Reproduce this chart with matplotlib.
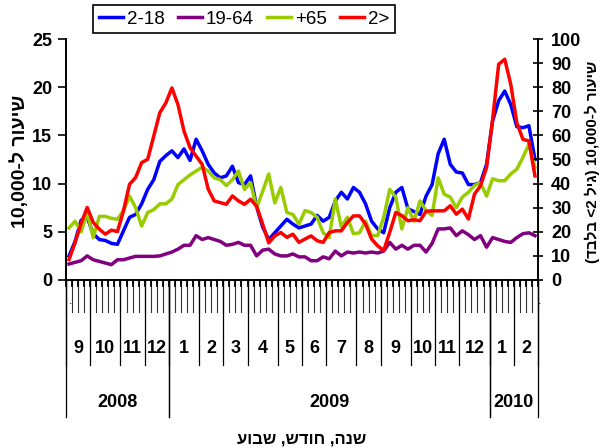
import matplotlib.pyplot as plt
import numpy as np

plt.rcParams['font.family'] = ['Liberation Sans Narrow', 'Liberation Sans', 'DejaVu Sans']

# weekly rates per 10,000 (78 weeks, Sep 2008 - Feb 2010)
age_2_18 = [2.5, 4.0, 6.2, 6.5, 4.8, 4.2, 4.1, 3.8, 3.7, 5.1,
            6.5, 6.8, 7.9, 9.4, 10.4, 12.3, 12.9, 13.4, 12.7, 13.6,
            12.4, 14.6, 13.4, 12.0, 11.1, 10.6, 10.8, 11.8, 10.1, 9.9,
            10.8, 7.6, 5.5, 4.2, 4.9, 5.6, 6.3, 5.8, 5.4, 5.6,
            5.8, 6.7, 6.1, 6.5, 8.2, 9.1, 8.4, 9.6, 9.1, 7.9,
            6.1, 5.3, 4.9, 7.5, 9.1, 9.6, 7.4, 7.1, 6.8, 8.7,
            9.9, 13.1, 14.6, 12.0, 11.2, 11.1, 9.9, 9.9, 10.1, 12.0,
            16.5, 18.6, 19.6, 18.2, 15.9, 15.8, 16.0, 12.5]
age_19_64 = [1.66, 1.83, 2.0, 2.5, 2.1, 1.93, 1.76, 1.59, 2.1, 2.1,
             2.28, 2.45, 2.45, 2.45, 2.45, 2.5, 2.7, 2.9, 3.2, 3.6,
             3.6, 4.6, 4.2, 4.4, 4.2, 4.0, 3.6, 3.7, 3.9, 3.6,
             3.6, 2.5, 3.1, 3.2, 2.7, 2.5, 2.5, 2.7, 2.4, 2.4,
             2.0, 2.0, 2.4, 2.2, 3.0, 2.5, 2.9, 2.8, 2.9, 2.8,
             2.9, 2.8, 3.0, 3.9, 3.2, 3.6, 3.2, 3.6, 3.6, 2.9,
             3.8, 5.3, 5.3, 5.4, 4.6, 5.1, 4.7, 4.2, 4.6, 3.4,
             4.4, 4.2, 4.0, 3.9, 4.4, 4.8, 4.9, 4.6]
age_65 = [5.4, 6.1, 5.0, 7.0, 4.4, 6.6, 6.6, 6.4, 6.3, 7.2,
          8.7, 7.5, 5.6, 7.0, 7.3, 7.9, 7.9, 8.4, 9.9, 10.4,
          10.9, 11.3, 11.7, 11.3, 10.6, 10.4, 9.8, 10.4, 11.3, 9.4,
          10.1, 7.5, 9.2, 11.0, 8.0, 9.6, 7.0, 6.8, 5.8, 7.2,
          7.0, 6.5, 4.9, 4.4, 8.4, 5.5, 6.5, 4.8, 4.9, 6.1,
          4.6, 4.6, 6.5, 9.4, 8.6, 5.3, 7.5, 6.1, 8.2, 7.2,
          6.7, 10.6, 8.9, 8.6, 7.5, 8.6, 9.1, 9.8, 10.1, 8.7,
          10.5, 10.3, 10.3, 11.0, 11.5, 12.7, 14.1, 11.7]
# under 2, secondary axis
age_under_2 = [8.5, 15.5, 23.5, 30.1, 23.9, 21.1, 19.0, 20.7, 20.1, 28.7,
               39.7, 42.5, 48.7, 50.1, 59.7, 69.4, 73.5, 79.7, 72.8, 61.8,
               54.9, 51.4, 48.0, 37.7, 32.8, 32.1, 31.4, 34.9, 32.8, 31.4,
               33.5, 30.6, 23.2, 15.4, 18.3, 19.7, 17.7, 19.0, 15.6, 17.0,
               18.3, 16.3, 15.6, 19.7, 20.4, 20.4, 23.9, 26.6, 26.6, 23.2,
               17.0, 14.2, 12.2, 19.8, 28.0, 26.7, 24.6, 25.0, 24.6, 28.5,
               28.7, 28.7, 28.7, 30.8, 27.3, 29.4, 25.3, 35.6, 39.1, 46.7,
               66.7, 89.5, 91.6, 81.2, 65.3, 58.4, 57.7, 43.2]

series_labels = ['2-18', '19-64', '+65', '2>']
colors = ['#0000FF', '#800080', '#99CC00', '#FF0000']

month_weeks = [4, 5, 4, 4, 5, 4, 4, 5, 4, 4, 5, 4, 5, 4, 4, 5, 4, 4]
month_labels = ['9', '10', '11', '12', '1', '2', '3', '4', '5', '6',
                '7', '8', '9', '10', '11', '12', '1', '2']
years = ['2008', '2009', '2010']
year_months = [4, 12, 2]

# hebrew text in visual (left-to-right) order
xlabel_txt = 'עובש ,שדוח ,הנש'
ylabel_left = '10,000-ל רועיש'
ylabel_right = '(דבלב <2 ליג) 10,000-ל רועיש'

W, H = 603, 448
fig = plt.figure(figsize=(W / 100, H / 100), dpi=100)
ax = fig.add_axes([66 / W, 1 - 280 / H, 472 / W, 241 / H])
ax2 = ax.twinx()

n = len(age_2_18)
x = np.arange(n) + 0.5
lw = 2.5
handles = []
for vals, c, lab in zip([age_2_18, age_19_64, age_65], colors[:3], series_labels[:3]):
    h, = ax.plot(x, vals, color=c, lw=lw, label=lab)
    handles.append(h)
h, = ax2.plot(x, age_under_2, color=colors[3], lw=lw, label=series_labels[3])
handles.append(h)

ax.set_xlim(0, n)
ax.set_ylim(0, 25)
ax2.set_ylim(0, 100)
ax.set_yticks(range(0, 26, 5))
ax2.set_yticks(range(0, 101, 10))
ax.set_xticks([])
ax2.set_xticks([])

ax.spines['top'].set_visible(False)
ax2.spines['top'].set_visible(False)
for a in (ax, ax2):
    for s in a.spines.values():
        s.set_linewidth(1.2)

ax.tick_params(axis='y', direction='out', length=6, width=1.2, pad=4, labelsize=13)
ax2.tick_params(axis='y', direction='inout', length=7, width=1.2, pad=6, labelsize=13)
for lbl in ax.get_yticklabels() + ax2.get_yticklabels():
    lbl.set_fontweight('bold')

# multi-level category axis below the plot
tr = ax.get_xaxis_transform()
y_week = -32 / 241
y_month = -85 / 241
y_year = -137 / 241
for b in range(n + 1):
    ax.plot([b, b], [0, y_week], transform=tr, color='#333333', lw=0.8, clip_on=False)
    ax.plot([b, b], [0, -6 / 241], transform=tr, color='black', lw=1.3, clip_on=False)

bounds = np.concatenate([[0], np.cumsum(month_weeks)])
for b in bounds:
    ax.plot([b, b], [0, y_month], transform=tr, color='black', lw=0.9, clip_on=False)
for k, lab in enumerate(month_labels):
    ax.text((bounds[k] + bounds[k + 1]) / 2, -68 / 241, lab, transform=tr,
            ha='center', va='center', fontsize=13, fontweight='bold')

month_bounds = np.concatenate([[0], np.cumsum(year_months)])
for k, yr in enumerate(years):
    start = bounds[month_bounds[k]]
    end = bounds[month_bounds[k + 1]]
    ax.plot([start, start], [0, y_year], transform=tr, color='black', lw=0.9, clip_on=False)
    ax.plot([end, end], [0, y_year], transform=tr, color='black', lw=0.9, clip_on=False)
    ax.text((start + end) / 2, -122 / 241, yr, transform=tr,
            ha='center', va='center', fontsize=13, fontweight='bold')

fig.text(71 / W, 1 - 301 / H, '.', fontsize=9, ha='center', va='center')
fig.text(540 / W, 1 - 301 / H, '.', fontsize=9, ha='center', va='center')

fig.text(302 / W, 1 - 439 / H, xlabel_txt, ha='center', va='center',
         fontsize=12, fontweight='bold')
fig.text(20 / W, 1 - 161 / H, ylabel_left, rotation=90, ha='center', va='center',
         fontsize=14, fontweight='bold')
fig.text(592 / W, 1 - 162 / H, ylabel_right, rotation=90, ha='center', va='center',
         fontsize=11, fontweight='bold')

leg = fig.legend(handles=handles, labels=series_labels, loc='center',
                 bbox_to_anchor=(244 / W, 1 - 19 / H), ncol=4, fontsize=13.5,
                 frameon=True, fancybox=False, framealpha=1, edgecolor='black',
                 handlelength=1.3, handletextpad=0.2, columnspacing=0.7,
                 borderpad=0.3)
leg.get_frame().set_linewidth(1.2)

fig.savefig('out.png', dpi=100, facecolor='white')
